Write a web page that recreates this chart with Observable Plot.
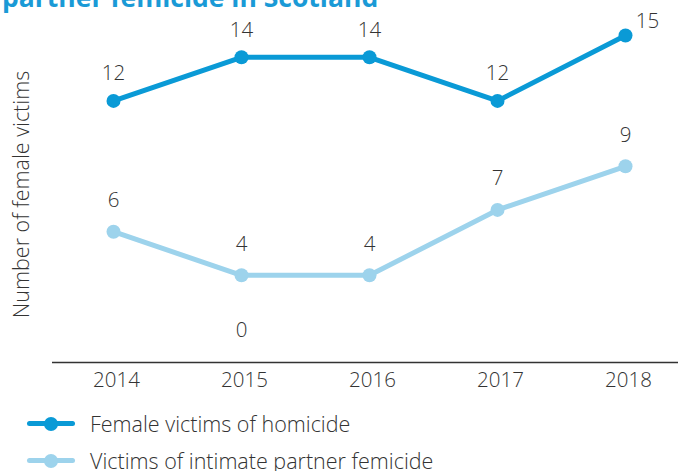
<!DOCTYPE html>
<html><head><meta charset="utf-8">
<script src="https://cdn.jsdelivr.net/npm/d3@7"></script>
<script src="https://cdn.jsdelivr.net/npm/@observablehq/plot@0.6"></script>
<style>
body{margin:0;background:#fff;font-family:"Open Sans",sans-serif;width:678px;height:471px;overflow:hidden;position:relative}
#title{position:absolute;left:2px;top:-18px;font-size:26.5px;font-weight:700;color:#1a9ad6;white-space:nowrap;line-height:30px}
#chart{position:absolute;left:0;top:0}
#chart svg text{font-weight:300}
#legend{position:absolute;left:0;top:405px}
.item{display:flex;align-items:center;height:37px;font-size:21.5px;font-weight:300;color:#333}
.sw{position:relative;width:48px;height:14px;margin-left:27px;margin-right:15px}
.sw .l{position:absolute;left:0;right:0;top:4.5px;height:5px;border-radius:3px}
.sw .d{position:absolute;left:17px;top:0;width:14px;height:14px;border-radius:50%}
</style></head>
<body>
<div id="title">partner femicide in Scotland</div>
<div id="chart"></div>
<div id="legend"></div>
<script>
const years = ["2014","2015","2016","2017","2018"];
const homicide = [12, 14, 14, 12, 15];
const partner = [6, 4, 4, 7, 9];
const strayLabelYear = ["2015"];
const strayLabelValue = [0];
const seriesNames = ["Female victims of homicide", "Victims of intimate partner femicide"];
const colors = ["#0a9ad6", "#9dd3ec"];
const yLabel = "Number of female victims";

const hom = years.map((y,i)=>({year:y, v:homicide[i]}));
const par = years.map((y,i)=>({year:y, v:partner[i]}));
const stray = strayLabelYear.map((y,i)=>({year:y, v:strayLabelValue[i]}));

const fs = 20.5;
const chart = Plot.plot({
  width: 678, height: 400,
  marginLeft: 52, marginRight: 0, marginTop: 0, marginBottom: 38,
  style: {fontFamily: "'Open Sans', sans-serif", fontSize: fs + "px", color: "#333", background: "transparent"},
  x: {type: "point", domain: years, range: [113, 625], padding: 0, label: null},
  y: {domain: [0, 15], range: [362, 35], axis: null},
  marks: [
    Plot.ruleY([0], {stroke: "#333", strokeWidth: 1.5}),
    Plot.axisX({tickSize: 0, tickPadding: 10, fontSize: fs, fill: "#333", label: null, dx: 3}),
    Plot.text([yLabel], {frameAnchor: "left", textAnchor: "middle", rotate: -90, dx: -30, dy: 13, fontSize: 21.5, fill: "#333"}),
    Plot.line(par, {x: "year", y: "v", stroke: colors[1], strokeWidth: 5}),
    Plot.dot(par, {x: "year", y: "v", r: 7, fill: colors[1]}),
    Plot.line(hom, {x: "year", y: "v", stroke: colors[0], strokeWidth: 5}),
    Plot.dot(hom, {x: "year", y: "v", r: 7, fill: colors[0]}),
    Plot.text(hom.slice(0,4), {x: "year", y: "v", text: d => String(d.v), dy: -27, fontSize: fs, fill: "#333"}),
    Plot.text(hom.slice(4), {x: "year", y: "v", text: d => String(d.v), dx: 22, dy: -14, fontSize: fs, fill: "#333"}),
    Plot.text(par, {x: "year", y: "v", text: d => String(d.v), dy: -31, fontSize: fs, fill: "#333"}),
    Plot.text(stray, {x: "year", y: "v", text: d => String(d.v), dy: -32, fontSize: fs, fill: "#333"})
  ]
});
document.getElementById("chart").append(chart);

const legend = document.getElementById("legend");
seriesNames.forEach((n,i)=>{
  const it = document.createElement("div"); it.className="item";
  it.innerHTML = `<span class="sw"><span class="l" style="background:${colors[i]}"></span><span class="d" style="background:${colors[i]}"></span></span><span>${n}</span>`;
  legend.append(it);
});
</script>
</body></html>
